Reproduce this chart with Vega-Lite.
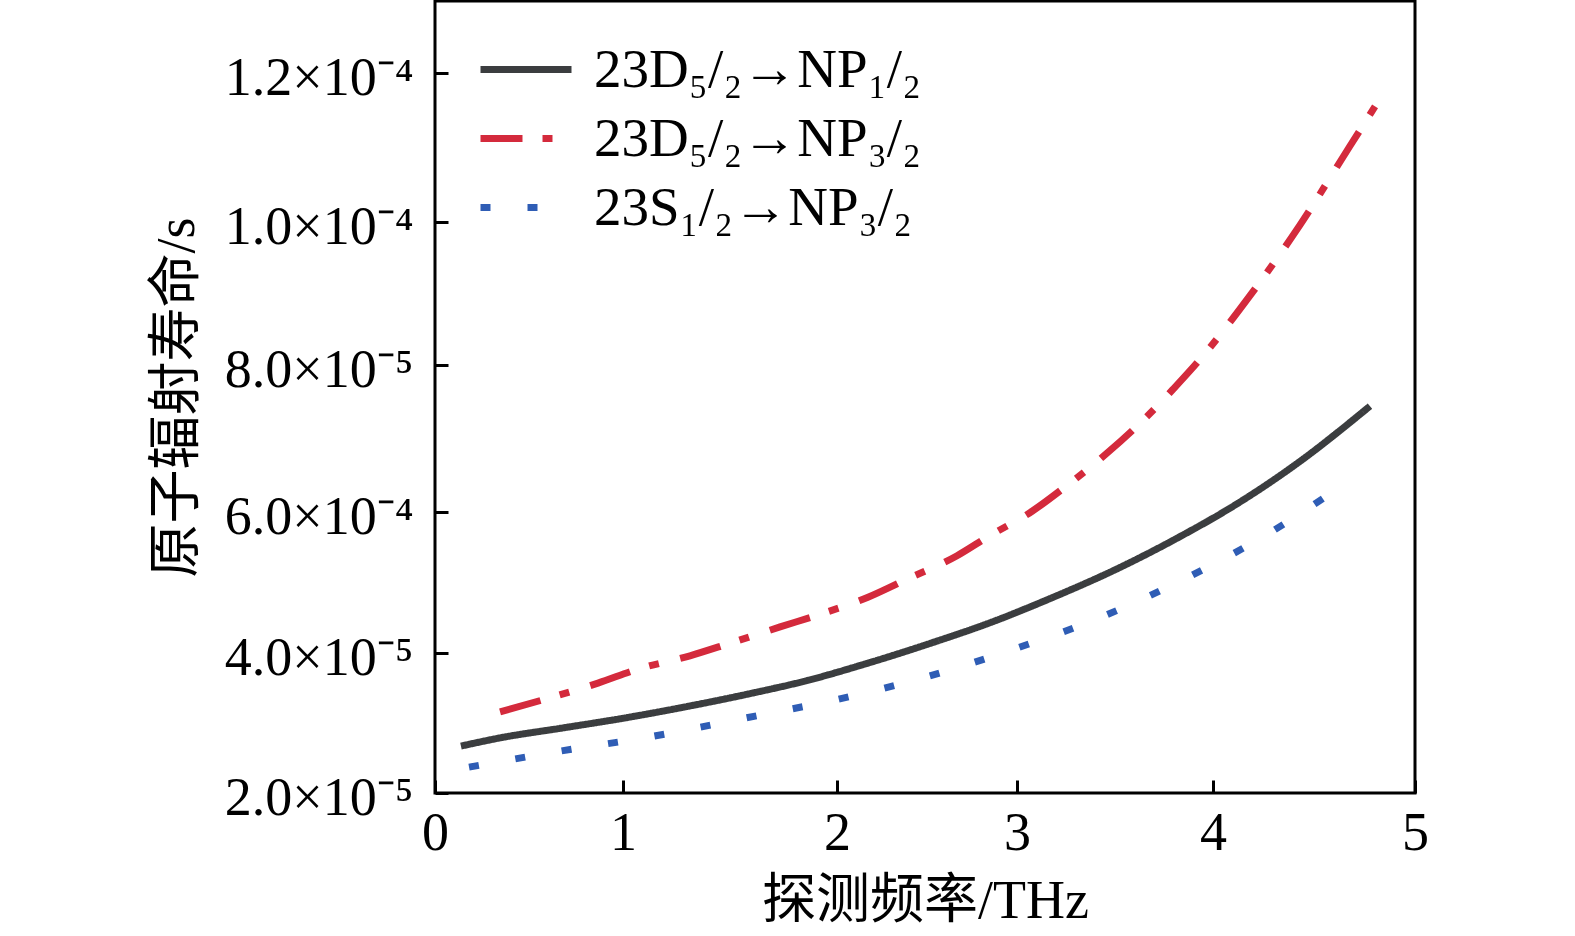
{
  "$schema": "https://vega.github.io/schema/vega-lite/v6.json",
  "description": "原子辐射寿命与探测频率的关系",
  "width": 980,
  "height": 792,
  "autosize": {"type": "none"},
  "padding": {"left": 435, "top": 1, "right": 160, "bottom": 143},
  "data": {
    "values": [
      {"series": "23D₅/₂→NP₁/₂", "f": 0.138, "t": 2.67e-5},
      {"series": "23D₅/₂→NP₁/₂", "f": 0.351, "t": 2.79e-5},
      {"series": "23D₅/₂→NP₁/₂", "f": 0.681, "t": 2.93e-5},
      {"series": "23D₅/₂→NP₁/₂", "f": 1.005, "t": 3.07e-5},
      {"series": "23D₅/₂→NP₁/₂", "f": 1.29, "t": 3.23e-5},
      {"series": "23D₅/₂→NP₁/₂", "f": 1.579, "t": 3.41e-5},
      {"series": "23D₅/₂→NP₁/₂", "f": 1.864, "t": 3.61e-5},
      {"series": "23D₅/₂→NP₁/₂", "f": 2.178, "t": 3.86e-5},
      {"series": "23D₅/₂→NP₁/₂", "f": 2.522, "t": 4.14e-5},
      {"series": "23D₅/₂→NP₁/₂", "f": 2.861, "t": 4.44e-5},
      {"series": "23D₅/₂→NP₁/₂", "f": 3.184, "t": 4.79e-5},
      {"series": "23D₅/₂→NP₁/₂", "f": 3.5, "t": 5.18e-5},
      {"series": "23D₅/₂→NP₁/₂", "f": 3.811, "t": 5.62e-5},
      {"series": "23D₅/₂→NP₁/₂", "f": 4.124, "t": 6.12e-5},
      {"series": "23D₅/₂→NP₁/₂", "f": 4.426, "t": 6.68e-5},
      {"series": "23D₅/₂→NP₁/₂", "f": 4.777, "t": 7.44e-5},
      {"series": "23D₅/₂→NP₃/₂", "f": 0.346, "t": 3.16e-5},
      {"series": "23D₅/₂→NP₃/₂", "f": 0.585, "t": 3.34e-5},
      {"series": "23D₅/₂→NP₃/₂", "f": 0.867, "t": 3.57e-5},
      {"series": "23D₅/₂→NP₃/₂", "f": 1.07, "t": 3.77e-5},
      {"series": "23D₅/₂→NP₃/₂", "f": 1.313, "t": 3.96e-5},
      {"series": "23D₅/₂→NP₃/₂", "f": 1.491, "t": 4.13e-5},
      {"series": "23D₅/₂→NP₃/₂", "f": 1.734, "t": 4.37e-5},
      {"series": "23D₅/₂→NP₃/₂", "f": 1.921, "t": 4.55e-5},
      {"series": "23D₅/₂→NP₃/₂", "f": 2.172, "t": 4.79e-5},
      {"series": "23D₅/₂→NP₃/₂", "f": 2.383, "t": 5.04e-5},
      {"series": "23D₅/₂→NP₃/₂", "f": 2.667, "t": 5.38e-5},
      {"series": "23D₅/₂→NP₃/₂", "f": 2.839, "t": 5.65e-5},
      {"series": "23D₅/₂→NP₃/₂", "f": 3.077, "t": 6.01e-5},
      {"series": "23D₅/₂→NP₃/₂", "f": 3.245, "t": 6.34e-5},
      {"series": "23D₅/₂→NP₃/₂", "f": 3.459, "t": 6.8e-5},
      {"series": "23D₅/₂→NP₃/₂", "f": 3.704, "t": 7.41e-5},
      {"series": "23D₅/₂→NP₃/₂", "f": 3.796, "t": 7.67e-5},
      {"series": "23D₅/₂→NP₃/₂", "f": 3.934, "t": 8.08e-5},
      {"series": "23D₅/₂→NP₃/₂", "f": 4.183, "t": 8.97e-5},
      {"series": "23D₅/₂→NP₃/₂", "f": 4.431, "t": 9.96e-5},
      {"series": "23D₅/₂→NP₃/₂", "f": 4.678, "t": 1.102e-4},
      {"series": "23D₅/₂→NP₃/₂", "f": 4.837, "t": 1.17e-4},
      {"series": "23S₁/₂→NP₃/₂", "f": 0.181, "t": 2.37e-5},
      {"series": "23S₁/₂→NP₃/₂", "f": 0.67, "t": 2.6e-5},
      {"series": "23S₁/₂→NP₃/₂", "f": 1.14, "t": 2.81e-5},
      {"series": "23S₁/₂→NP₃/₂", "f": 1.57, "t": 3.07e-5},
      {"series": "23S₁/₂→NP₃/₂", "f": 2.006, "t": 3.34e-5},
      {"series": "23S₁/₂→NP₃/₂", "f": 2.511, "t": 3.67e-5},
      {"series": "23S₁/₂→NP₃/₂", "f": 2.989, "t": 4.06e-5},
      {"series": "23S₁/₂→NP₃/₂", "f": 3.439, "t": 4.52e-5},
      {"series": "23S₁/₂→NP₃/₂", "f": 3.883, "t": 5.09e-5},
      {"series": "23S₁/₂→NP₃/₂", "f": 4.272, "t": 5.69e-5},
      {"series": "23S₁/₂→NP₃/₂", "f": 4.66, "t": 6.4e-5}
    ]
  },
  "mark": {"type": "line", "strokeWidth": 7, "interpolate": "monotone"},
  "encoding": {
    "x": {
      "field": "f",
      "type": "quantitative",
      "scale": {"domain": [0, 1, 2, 3, 4, 5], "range": [0, 188, 402, 582, 778, 980], "nice": false, "zero": false},
      "axis": {"values": [0, 1, 2, 3, 4, 5], "format": "d", "title": "探测频率/THz", "labelPadding": 26, "titlePadding": 14}
    },
    "y": {
      "field": "t",
      "type": "quantitative",
      "scale": {"domain": [2e-5, 4e-5, 6e-5, 8e-5, 1e-4, 1.2e-4, 1.3e-4], "range": [792, 652, 511, 364, 221, 72, 0], "nice": false, "zero": false},
      "axis": {
        "values": [2e-5, 4e-5, 6e-5, 8e-5, 1e-4, 1.2e-4],
        "labelExpr": "datum.value < 3e-5 ? '2.0×10⁻⁵' : datum.value < 5e-5 ? '4.0×10⁻⁵' : datum.value < 7e-5 ? '6.0×10⁻⁴' : datum.value < 9e-5 ? '8.0×10⁻⁵' : datum.value < 1.1e-4 ? '1.0×10⁻⁴' : '1.2×10⁻⁴'",
        "title": "原子辐射寿命/s",
        "labelPadding": 35,
        "labelOffset": 5,
        "titlePadding": 31
      }
    },
    "color": {
      "field": "series",
      "type": "nominal",
      "scale": {"domain": ["23D₅/₂→NP₁/₂", "23D₅/₂→NP₃/₂", "23S₁/₂→NP₃/₂"], "range": ["#3b3d3f", "#d42a3c", "#2f5db5"]},
      "legend": {"title": null}
    },
    "strokeDash": {
      "field": "series",
      "type": "nominal",
      "scale": {"domain": ["23D₅/₂→NP₁/₂", "23D₅/₂→NP₃/₂", "23S₁/₂→NP₃/₂"], "range": [[1, 0], [42, 20, 10, 22], [10, 37]]},
      "legend": {"title": null}
    }
  },
  "config": {
    "view": {"stroke": "black", "strokeWidth": 3},
    "axis": {
      "zindex": 1,
      "grid": false,
      "domain": false,
      "tickSize": -13,
      "tickWidth": 3,
      "tickColor": "black",
      "labelFont": "Liberation Serif",
      "labelFontSize": 54,
      "labelColor": "black",
      "labelLimit": 400,
      "labelFlush": false,
      "labelOverlap": false,
      "labelBound": false,
      "titleFont": "Liberation Serif, Noto Sans CJK SC",
      "titleFontSize": 54,
      "titleFontWeight": "normal",
      "titleColor": "black"
    },
    "legend": {
      "orient": "none",
      "legendX": 42,
      "legendY": 34,
      "padding": 0,
      "symbolType": "stroke",
      "symbolSize": 8281,
      "symbolStrokeWidth": 7,
      "clipHeight": 69,
      "rowPadding": 0,
      "labelFont": "Liberation Serif",
      "labelFontSize": 55,
      "labelColor": "black",
      "labelOffset": 19,
      "labelLimit": 1000
    }
  }
}
